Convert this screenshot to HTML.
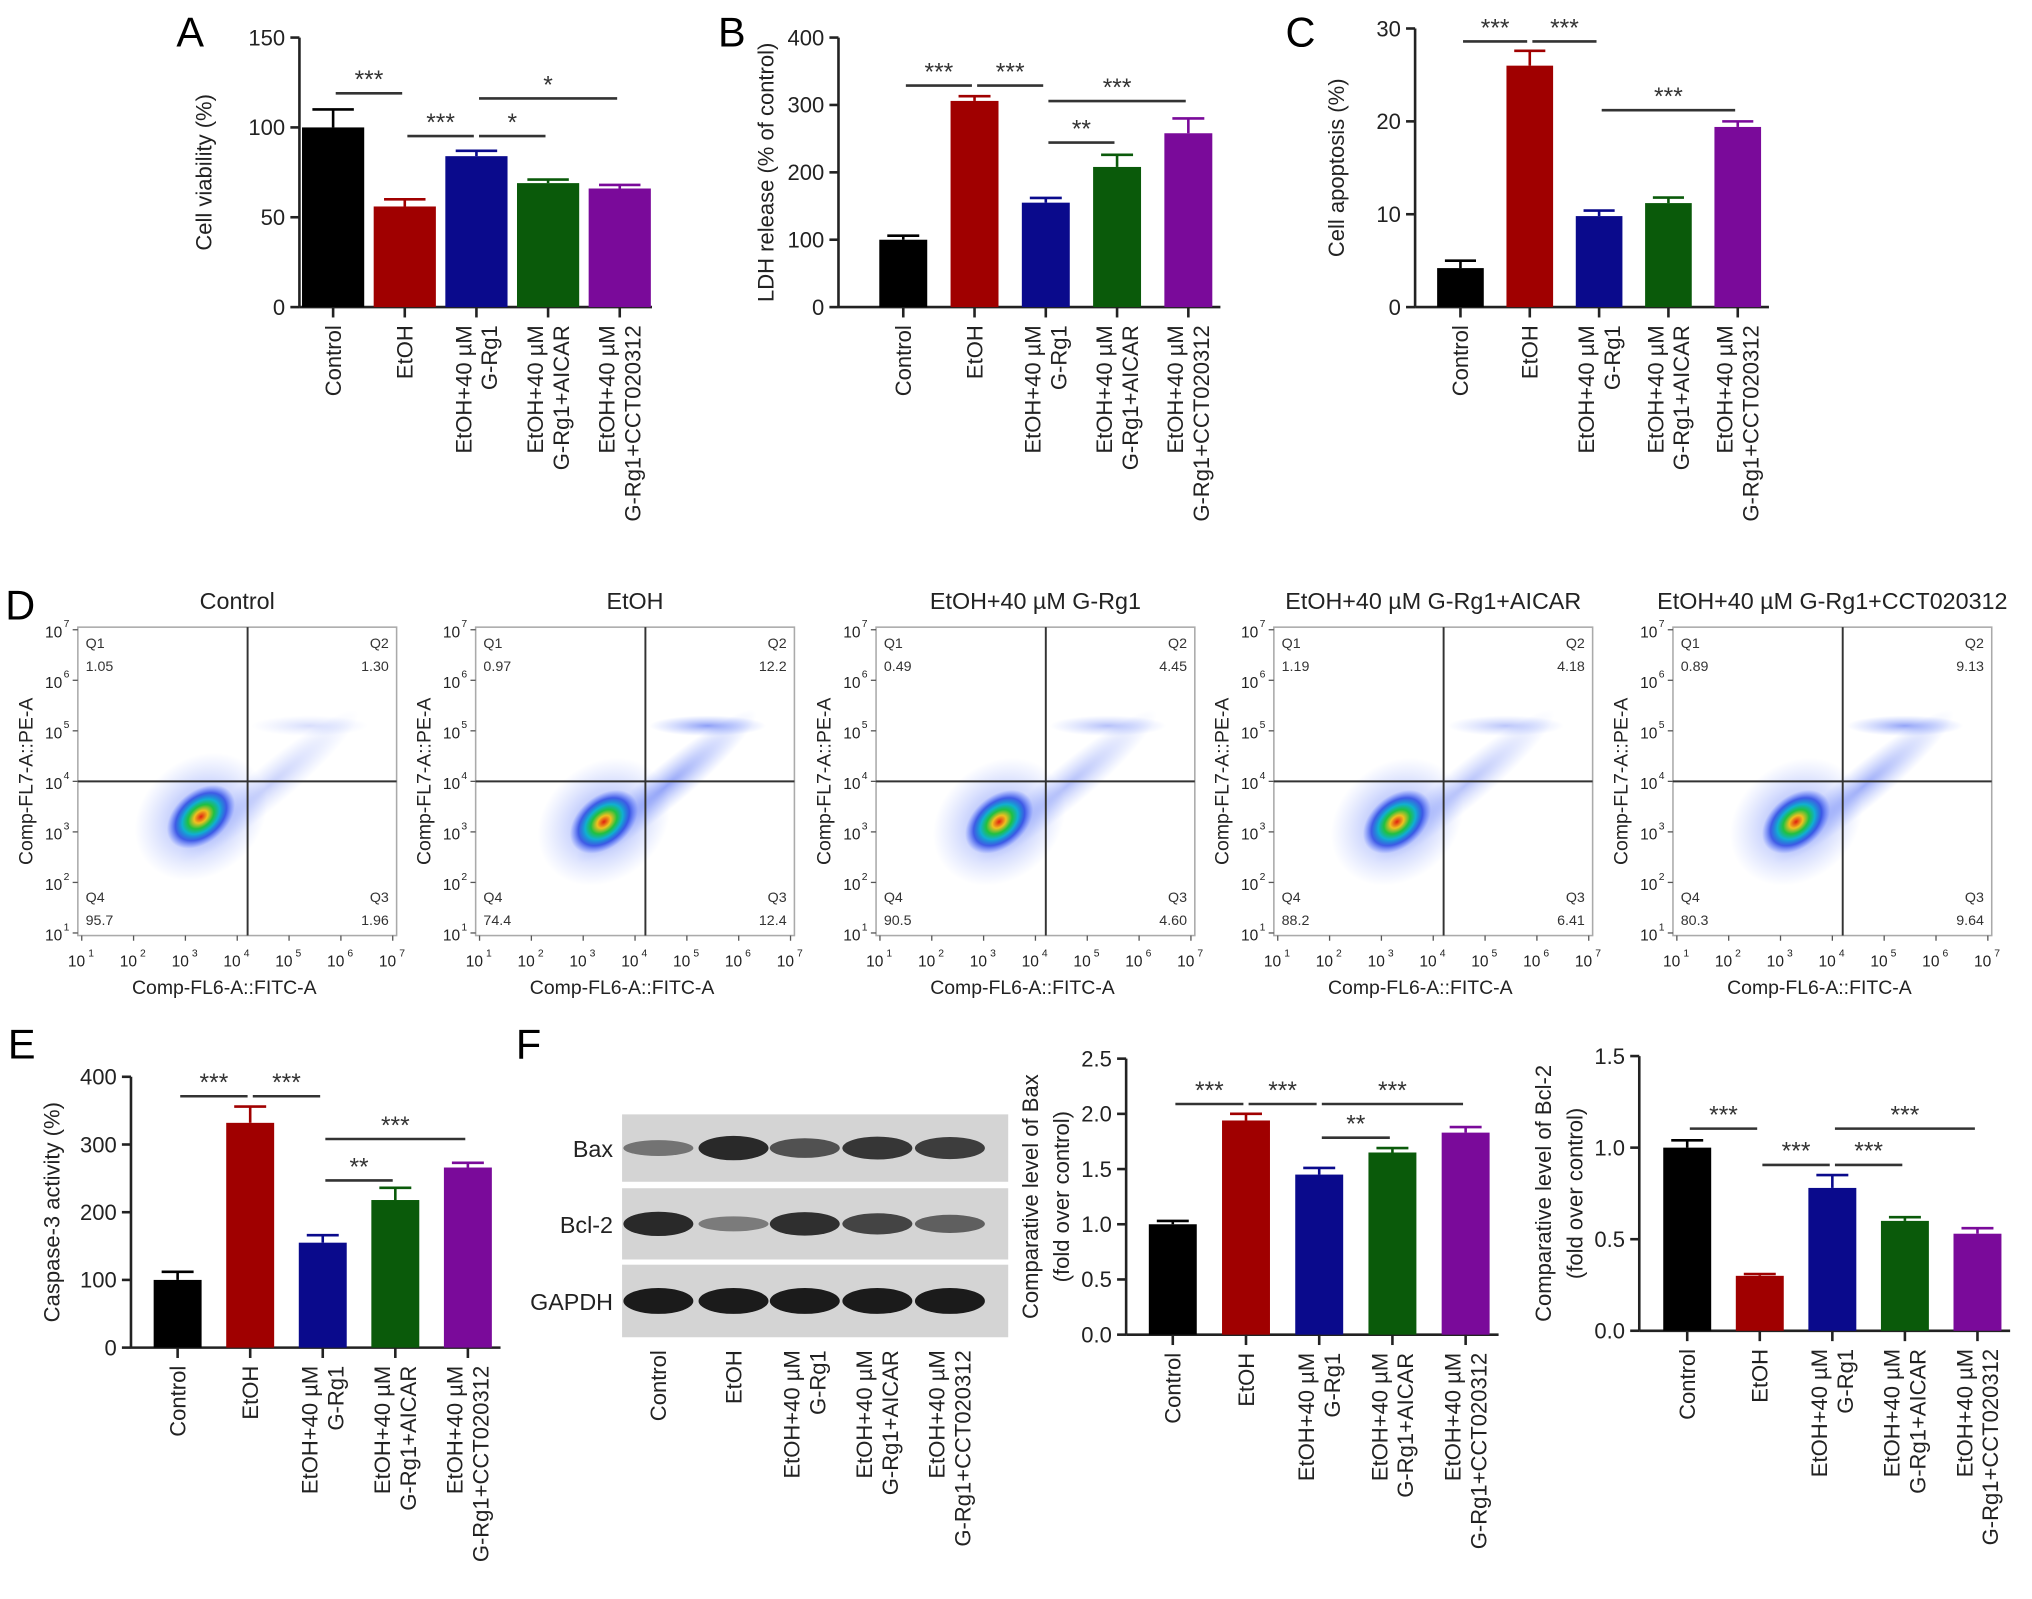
<!DOCTYPE html>
<html><head><meta charset="utf-8">
<style>
html,body{margin:0;padding:0;background:#fff;}
svg{display:block;font-family:"Liberation Sans",Arial,sans-serif;}
</style></head>
<body>
<svg id="fig" width="2032" height="1599" viewBox="0 0 1568 1234" xmlns="http://www.w3.org/2000/svg">
<defs>
<radialGradient id="dens" cx="50%" cy="50%" r="50%">
<stop offset="0" stop-color="#e02010"/>
<stop offset="0.2" stop-color="#f0c020"/>
<stop offset="0.38" stop-color="#20c040"/>
<stop offset="0.55" stop-color="#10b0d0"/>
<stop offset="0.75" stop-color="#2040e0" stop-opacity="0.8"/>
<stop offset="1" stop-color="#4060ff" stop-opacity="0"/>
</radialGradient>
<radialGradient id="sparse" cx="50%" cy="50%" r="50%">
<stop offset="0" stop-color="#3050f0" stop-opacity="0.55"/>
<stop offset="1" stop-color="#6080ff" stop-opacity="0"/>
</radialGradient>
</defs>
<g id="root"></g>
</svg>
<script>
// ---- data ----
const groups = ["Control","EtOH","EtOH+40 µM|G-Rg1","EtOH+40 µM|G-Rg1+AICAR","EtOH+40 µM|G-Rg1+CCT020312"];
const colors = ["#000000","#a00000","#0a0a8c","#0a5a0a","#7a0a9a"];
const viabilityVals = [100,56,84,69,66];
const viabilityErr = [10,4,3,2,2];
const ldhVals = [100,306,155,208,258];
const ldhErr = [6,7,7,18,22];
const apoptosisVals = [4.2,26,9.8,11.2,19.4];
const apoptosisErr = [0.8,1.6,0.6,0.6,0.6];
const caspaseVals = [100,332,155,218,266];
const caspaseErr = [12,24,11,18,7];
const baxVals = [1.0,1.94,1.45,1.65,1.83];
const baxErr = [0.03,0.06,0.06,0.04,0.05];
const bcl2Vals = [1.0,0.30,0.78,0.60,0.53];
const bcl2Err = [0.04,0.01,0.07,0.02,0.03];
const viabilityTicks = [0,50,100,150];
const ldhTicks = [0,100,200,300,400];
const apoptosisTicks = [0,10,20,30];
const caspaseTicks = [0,100,200,300,400];
const baxTicks = [0.0,0.5,1.0,1.5,2.0,2.5];
const bcl2Ticks = [0.0,0.5,1.0,1.5];
const flowTitles = ["Control","EtOH","EtOH+40 µM G-Rg1","EtOH+40 µM G-Rg1+AICAR","EtOH+40 µM G-Rg1+CCT020312"];
const q1Vals = ["1.05","0.97","0.49","1.19","0.89"];
const q2Vals = ["1.30","12.2","4.45","4.18","9.13"];
const q3Vals = ["1.96","12.4","4.60","6.41","9.64"];
const q4Vals = ["95.7","74.4","90.5","88.2","80.3"];
const clusterX = [3.3,3.4,3.3,3.3,3.3];
const clusterY = [3.3,3.2,3.2,3.2,3.2];
const q2Density = [0.15,0.9,0.45,0.4,0.75];

const NS="http://www.w3.org/2000/svg";
const root=document.getElementById('root');
function el(tag,attrs,parent,text){const e=document.createElementNS(NS,tag);for(const k in attrs)e.setAttribute(k,attrs[k]);if(text!==undefined)e.textContent=text;(parent||root).appendChild(e);return e;}
function fmt(v,dec){return dec?v.toFixed(1):String(v);}

function barChart(o){
  const g=el('g',{});
  
  
  const ymax=o.ticks[o.ticks.length-1];
  const ys=v=>o.y0-(v/ymax)*(o.y0-o.y1);
  const xs=i=>o.x0+o.first+i*o.step;
  const ya=el('line',{x1:o.x0,y1:o.y1,x2:o.x0,y2:o.y0,stroke:'#222','stroke-width':2},g);
  
  const xa=el('line',{x1:o.x0,y1:o.y0,x2:xs(4)+o.step*0.45,y2:o.y0,stroke:'#222','stroke-width':2},g);
  
  o.ticks.forEach(t=>{
    el('line',{x1:o.x0-7,x2:o.x0,y1:ys(t),y2:ys(t),stroke:'#222','stroke-width':2},g);
    const tl=el('text',{x:o.x0-11,y:ys(t)+6,'text-anchor':'end','font-size':17,fill:'#222'},g,fmt(t,o.dec));
    
  });
  const yt=el('g',{transform:`translate(${o.x0-o.ylOff},${(o.y0+o.y1)/2}) rotate(-90)`},g);
  
  o.ylabel.forEach((s,k)=>el('text',{x:0,y:(k-(o.ylabel.length-1))*24,'text-anchor':'middle','font-size':17,fill:'#222'},yt,s));
  o.vals.forEach((v,i)=>{
    const x=xs(i);
    const b=el('rect',{x:x-o.bw/2,y:ys(v),width:o.bw,height:o.y0-ys(v),fill:colors[i]},g);
    
    const e=o.errs[i];
    el('line',{x1:x,x2:x,y1:ys(v),y2:ys(v+e),stroke:colors[i],'stroke-width':2},g);
    el('line',{x1:x-o.bw/3,x2:x+o.bw/3,y1:ys(v+e),y2:ys(v+e),stroke:colors[i],'stroke-width':2},g);
    el('line',{x1:x,x2:x,y1:o.y0,y2:o.y0+8,stroke:'#222','stroke-width':2},g);
    catLabel(g,x,o.y0+14,i);
  });
  o.sig.forEach(s=>{
    const sg=el('g',{},g);
    
    el('line',{x1:xs(s[0])+2,x2:xs(s[1])-2,y1:s[2],y2:s[2],stroke:'#333','stroke-width':2},sg);
    el('text',{x:(xs(s[0])+xs(s[1]))/2,y:s[2]-4,'text-anchor':'middle','font-size':19,fill:'#333'},sg,s[3]);
  });
  if(o.letter){
    const L=el('text',{x:o.letter[0],y:o.letter[1],'font-size':32,fill:'#000'},g,o.letter[2]);
    
  }
}
function catLabel(g,x,ytop,i){
  const lines=groups[i].split('|');
  const t=el('g',{transform:`translate(${x},${ytop}) rotate(-90)`},g);
  
  lines.forEach((s,k)=>el('text',{x:0,y:(k-(lines.length-1)/2)*20+6,'text-anchor':'end','font-size':17,fill:'#222'},t,s));
}

barChart({name:'cell-viability-chart',x0:231,y0:237,y1:29,first:26,step:55.3,bw:48,vals:viabilityVals,errs:viabilityErr,ticks:viabilityTicks,ylabel:['Cell viability (%)'],ylOff:68,
  sig:[[0,1,72,'***'],[1,2,105,'***'],[2,3,105,'*'],[2,4,76,'*']],letter:[136,36,'A']});
barChart({name:'ldh-release-chart',x0:647,y0:237,y1:29,first:50,step:55,bw:37,vals:ldhVals,errs:ldhErr,ticks:ldhTicks,ylabel:['LDH release (% of control)'],ylOff:50,
  sig:[[0,1,66,'***'],[1,2,66,'***'],[2,3,110,'**'],[2,4,78,'***']],letter:[554,36,'B']});
barChart({name:'apoptosis-chart',x0:1092,y0:237,y1:22,first:35,step:53.5,bw:36,vals:apoptosisVals,errs:apoptosisErr,ticks:apoptosisTicks,ylabel:['Cell apoptosis (%)'],ylOff:55,
  sig:[[0,1,32,'***'],[1,2,32,'***'],[2,4,85,'***']],letter:[992,36,'C']});
barChart({name:'caspase-chart',x0:101,y0:1040,y1:831,first:36,step:56,bw:37,vals:caspaseVals,errs:caspaseErr,ticks:caspaseTicks,ylabel:['Caspase-3 activity (%)'],ylOff:55,
  sig:[[0,1,846,'***'],[1,2,846,'***'],[2,3,911,'**'],[2,4,879,'***']],letter:[6,817,'E']});
barChart({name:'bax-chart',x0:869,y0:1030,y1:817,first:36,step:56.5,bw:37,vals:baxVals,errs:baxErr,ticks:baxTicks,dec:true,ylabel:['Comparative level of Bax','(fold over control)'],ylOff:44,
  sig:[[0,1,852,'***'],[1,2,852,'***'],[2,3,878,'**'],[2,4,852,'***']],letter:[398,817,'F']});
barChart({name:'bcl2-chart',x0:1265,y0:1027,y1:815,first:37,step:56,bw:37,vals:bcl2Vals,errs:bcl2Err,ticks:bcl2Ticks,dec:true,ylabel:['Comparative level of Bcl-2','(fold over control)'],ylOff:44,
  sig:[[0,1,871,'***'],[1,2,899,'***'],[2,3,899,'***'],[2,4,871,'***']]});

// ---- western blot ----
const wb=el('g',{});

const bandRows=[["Bax",860,52,[0.35,0.9,0.6,0.8,0.75]],["Bcl-2",917,55,[0.9,0.3,0.85,0.7,0.5]],["GAPDH",976,56,[1,1,1,1,1]]];
const laneX=[508,566,621,677,733];
bandRows.forEach(r=>{
  el('rect',{x:480,y:r[1],width:298,height:r[2],fill:'#d4d4d4'},wb);
  const lab=el('text',{x:473,y:r[1]+r[2]/2+7,'text-anchor':'end','font-size':18,fill:'#222'},wb,r[0]);
  
  r[3].forEach((d,i)=>{
    const b=el('ellipse',{cx:laneX[i],cy:r[1]+r[2]/2,rx:27,ry:4+d*6,fill:'#111','fill-opacity':0.25+d*0.7},wb);
    
  });
});
laneX.forEach((x,i)=>catLabel(wb,x,1042,i));

// ---- flow plots ----
const flowLeft=[60,367,676,983,1291];
const fw=246, fTop=484, fBot=722;
flowLeft.forEach((L,p)=>{
  const g=el('g',{});
  
  const lx=v=>L+3+(v-1)/6*(fw-6);
  const ly=v=>fBot-2-(v-1)/6*(fBot-fTop-4);
  el('rect',{x:L,y:fTop,width:fw,height:fBot-fTop,fill:'none',stroke:'#aaa','stroke-width':1.2},g);
  const t=el('text',{x:L+fw/2,y:fTop-14,'text-anchor':'middle','font-size':18,fill:'#222'},g,flowTitles[p]);
  
  const cx=lx(clusterX[p]),cy=ly(clusterY[p]);
  el('ellipse',{cx:cx,cy:cy,rx:55,ry:45,fill:'url(#sparse)',transform:`rotate(-40 ${cx} ${cy})`},g);
  el('ellipse',{cx:lx(4.6),cy:ly(3.9),rx:90,ry:16,fill:'url(#sparse)','fill-opacity':0.4+q2Density[p]*0.6,transform:`rotate(-40 ${lx(4.6)} ${ly(3.9)})`},g);
  el('ellipse',{cx:lx(5.4),cy:ly(5.1),rx:45,ry:8,fill:'url(#sparse)','fill-opacity':0.2+q2Density[p]},g);
  el('ellipse',{cx:cx,cy:cy,rx:30,ry:20,fill:'url(#dens)',transform:`rotate(-40 ${cx} ${cy})`},g);
  el('line',{x1:lx(4.2),x2:lx(4.2),y1:fTop,y2:fBot,stroke:'#333','stroke-width':1.5},g);
  el('line',{x1:L,x2:L+fw,y1:ly(4),y2:ly(4),stroke:'#333','stroke-width':1.5},g);
  for(let d=1;d<=7;d++){
    el('text',{x:lx(d)-4,y:fBot+24,'text-anchor':'middle','font-size':12,fill:'#222'},g,'10');
    el('text',{x:lx(d)+5,y:fBot+16,'font-size':8,fill:'#222'},g,String(d));
    el('text',{x:L-12,y:ly(d)+6,'text-anchor':'end','font-size':12,fill:'#222'},g,'10');
    el('text',{x:L-11,y:ly(d)-2,'font-size':8,fill:'#222'},g,String(d));
    el('line',{x1:lx(d),x2:lx(d),y1:fBot,y2:fBot+4,stroke:'#555'},g);
    el('line',{x1:L-4,x2:L,y1:ly(d),y2:ly(d),stroke:'#555'},g);
  }
  const xl=el('text',{x:L+fw/2-10,y:fBot+45,'text-anchor':'middle','font-size':15,fill:'#222'},g,'Comp-FL6-A::FITC-A');
  
  const yl=el('text',{transform:`translate(${L-35},${(fTop+fBot)/2}) rotate(-90)`,'text-anchor':'middle','font-size':15,fill:'#222'},g,'Comp-FL7-A::PE-A');
  
  const q=(x,y,s,a)=>el('text',{x:x,y:y,'text-anchor':a,'font-size':11,fill:'#333'},g,s);
  q(L+6,fTop+16,'Q1','start');q(L+6,fTop+34,q1Vals[p],'start');
  q(L+fw-6,fTop+16,'Q2','end');q(L+fw-6,fTop+34,q2Vals[p],'end');
  q(L+6,fBot-26,'Q4','start');q(L+6,fBot-8,q4Vals[p],'start');
  q(L+fw-6,fBot-26,'Q3','end');q(L+fw-6,fBot-8,q3Vals[p],'end');
});
const D=el('text',{x:4,y:478,'font-size':32,fill:'#000'},root,'D');


</script>
</body></html>
